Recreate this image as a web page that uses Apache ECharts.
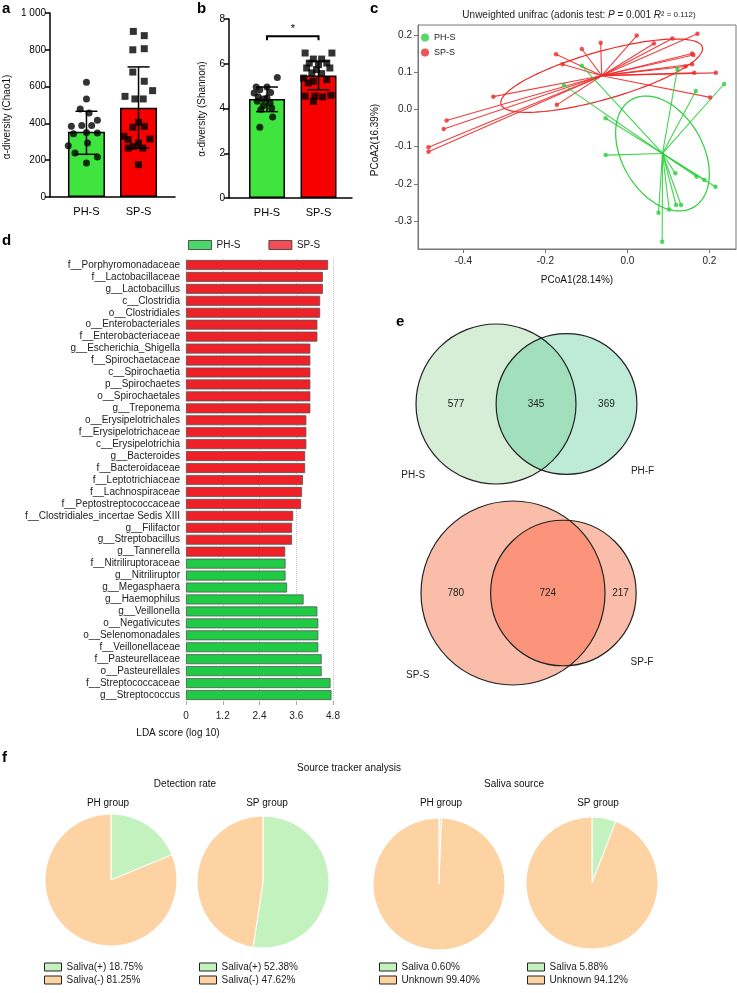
<!DOCTYPE html>
<html>
<head>
<meta charset="utf-8">
<title>Figure</title>
<script src="https://cdn.jsdelivr.net/npm/echarts@6.0.0/dist/echarts.min.js"></script>
<style>
html,body{margin:0;padding:0;background:#fff;}
#chart{width:737px;height:993px;}
</style>
</head>
<body>
<div id="chart"></div>
<script>
// ===================== DATA =====================
const groups = ['PH-S', 'SP-S'];

// (a) alpha diversity (Chao1)
const chaoMean = [355, 485];
const chaoLow = [232, 265];
const chaoHigh = [466, 707];
const chaoPH = [623, 533, 478, 457, 417, 384, 388, 388, 344, 351, 348, 279, 293, 239, 217, 185];
const chaoPHjit = [0, 0, -0.12, 0.05, 0.21, -0.29, -0.09, 0.10, -0.25, 0, 0.21, -0.35, 0.02, -0.22, 0.21, 0];
const chaoSP = [900, 877, 800, 806, 679, 629, 578, 547, 533, 533, 406, 384, 379, 330, 312, 315, 293, 275, 266, 266, 176];
const chaoSPjit = [-0.10, 0.11, -0.11, 0.11, -0.11, 0.11, 0.27, -0.26, -0.07, 0.09, 0, 0.11, -0.11, -0.28, -0.20, 0.22, 0, -0.10, 0.08, -0.20, 0];

// (b) alpha diversity (Shannon)
const shanMean = [4.42, 5.47];
const shanLow = [3.86, 4.84];
const shanHigh = [4.96, 6.12];
const shanPH = [5.39, 4.96, 4.96, 4.84, 4.69, 4.72, 4.52, 4.47, 4.32, 4.25, 4.13, 4.02, 3.95, 3.62, 3.16, 4.43];
const shanPHjit = [0.20, -0.21, 0, -0.14, -0.25, 0.07, -0.17, 0, -0.19, 0.06, -0.07, 0.09, -0.12, 0.11, -0.14, -0.07];
const shanSP = [6.48, 6.48, 6.21, 6.21, 6.03, 5.96, 6.03, 5.81, 5.74, 5.81, 5.59, 5.56, 5.36, 5.29, 5.22, 4.55, 4.55, 4.52, 4.59, 4.32, 5.14];
const shanSPjit = [-0.26, 0.26, -0.10, 0.06, -0.18, 0, 0.16, -0.23, -0.04, 0.22, -0.13, 0.06, -0.29, 0.16, -0.10, -0.26, -0.07, 0.08, 0.24, -0.10, -0.20];
const sigPair = [0, 1];
const sigLevel = 7.23;
const sigMark = '*';

// (c) PCoA, unweighted unifrac
const pcoaPH = [[-0.111, 0.117], [-0.155, 0.065], [0.122, 0.108], [0.167, 0.049], [0.236, 0.068], [-0.053, -0.024], [-0.053, -0.123], [0.117, -0.172], [0.169, -0.181], [0.188, -0.190], [0.215, -0.208], [0.119, -0.257], [0.131, -0.257], [0.102, -0.269], [0.076, -0.278], [0.085, -0.356]];
const pcoaSP = [[0.023, 0.198], [-0.065, 0.179], [-0.111, 0.162], [-0.174, 0.148], [-0.158, 0.121], [0.065, 0.177], [0.110, 0.190], [0.171, 0.203], [0.158, 0.150], [0.161, 0.146], [0.158, 0.121], [0.142, 0.115], [0.163, 0.098], [0.216, 0.098], [0.202, 0.032], [-0.327, 0.034], [-0.172, 0.012], [-0.441, -0.030], [-0.448, -0.053], [-0.485, -0.102], [-0.485, -0.114]];
const centroidPH = [0.0857, -0.1186];
const centroidSP = [-0.0626, 0.0904];
const ellipsePH = [[0.0753, -0.1448], [-0.0859, -0.0537]];   // semi-axis vectors
const ellipseSP = [[0.2456, 0.0767], [0.0160, -0.0618]];
const pcoaXTicks = [-0.4, -0.2, 0, 0.2];
const pcoaYTicks = [-0.3, -0.2, -0.1, 0, 0.1, 0.2];

// (d) LEfSe LDA scores
const ldaTaxaSP = ['f__Porphyromonadaceae', 'f__Lactobacillaceae', 'g__Lactobacillus', 'c__Clostridia', 'o__Clostridiales', 'o__Enterobacteriales', 'f__Enterobacteriaceae', 'g__Escherichia_Shigella', 'f__Spirochaetaceae', 'c__Spirochaetia', 'p__Spirochaetes', 'o__Spirochaetales', 'g__Treponema', 'o__Erysipelotrichales', 'f__Erysipelotrichaceae', 'c__Erysipelotrichia', 'g__Bacteroides', 'f__Bacteroidaceae', 'f__Leptotrichiaceae', 'f__Lachnospiraceae', 'f__Peptostreptococcaceae', 'f__Clostridiales_incertae Sedis XIII', 'g__Filifactor', 'g__Streptobacillus', 'g__Tannerella'];
const ldaSP = [4.64, 4.47, 4.47, 4.38, 4.38, 4.29, 4.29, 4.06, 4.06, 4.06, 4.06, 4.06, 4.06, 3.93, 3.93, 3.93, 3.89, 3.89, 3.82, 3.79, 3.76, 3.50, 3.46, 3.46, 3.24];
const ldaTaxaPH = ['f__Nitriliruptoraceae', 'g__Nitriliruptor', 'g__Megasphaera', 'g__Haemophilus', 'g__Veillonella', 'o__Negativicutes', 'o__Selenomonadales', 'f__Veillonellaceae', 'f__Pasteurellaceae', 'o__Pasteurellales', 'f__Streptococcaceae', 'g__Streptococcus'];
const ldaPH = [3.25, 3.25, 3.30, 3.84, 4.29, 4.32, 4.32, 4.32, 4.43, 4.43, 4.72, 4.75];

// (e) Venn counts [only left, shared, only right]
const vennPHcounts = [577, 345, 369];
const vennPHnames = ['PH-S', 'PH-F'];
const vennSPcounts = [780, 724, 217];
const vennSPnames = ['SP-S', 'SP-F'];

// (f) Source tracker
const detLabels = ['Saliva(+)', 'Saliva(-)'];
const detPH = [18.75, 81.25];
const detSP = [52.38, 47.62];
const srcLabels = ['Saliva', 'Unknown'];
const srcPH = [0.60, 99.40];
const srcSP = [5.88, 94.12];

// ===================== STYLE / LAYOUT =====================
const F = "'Liberation Sans', Arial, Helvetica, sans-serif";
const barGreen = '#3fe43f', barRed = '#f80000';
const cGreen = '#2ccf3c', cRed = '#ee2a2a';
const dGreen = '#1fcb45', dRed = '#ee2129';
const pieGreen = '#c3f2bf', pieOrange = '#fdd3a3';
const vennLayout = [
  {counts: vennPHcounts, names: vennPHnames, anchor: [496, 404], scale: 21.8, fills: ['#d5eed5', '#bdebd8', '#a2e0bd']},
  {counts: vennSPcounts, names: vennSPnames, anchor: [513, 593], scale: 17.68, fills: ['#f9bdaa', '#f9bdaa', '#fb947b']}
];

// ===================== HELPERS =====================
function errBar(capHalf) {
  return function (params, api) {
    const x = api.value(0), lo = api.value(1), hi = api.value(2);
    const a = api.coord([x, lo]), b = api.coord([x, hi]);
    const st = {stroke: '#000', lineWidth: 1.5};
    return {type: 'group', children: [
      {type: 'line', shape: {x1: a[0], y1: a[1], x2: b[0], y2: b[1]}, style: st},
      {type: 'line', shape: {x1: b[0] - capHalf, y1: b[1], x2: b[0] + capHalf, y2: b[1]}, style: st},
      {type: 'line', shape: {x1: a[0] - capHalf, y1: a[1], x2: a[0] + capHalf, y2: a[1]}, style: st}
    ]};
  };
}
function ellipseRender(axes, color) {
  return function (params, api) {
    const cx = api.value(0), cy = api.value(1);
    const pts = [];
    for (let i = 0; i <= 120; i++) {
      const t = i / 120 * Math.PI * 2;
      pts.push(api.coord([cx + axes[0][0] * Math.cos(t) + axes[1][0] * Math.sin(t),
                          cy + axes[0][1] * Math.cos(t) + axes[1][1] * Math.sin(t)]));
    }
    return {type: 'polyline', shape: {points: pts}, style: {stroke: color, fill: null, lineWidth: 1.2}};
  };
}
function lensArea(r1, r2, d) {
  if (d >= r1 + r2) return 0;
  if (d <= Math.abs(r1 - r2)) return Math.PI * Math.min(r1, r2) ** 2;
  const a1 = Math.acos((d * d + r1 * r1 - r2 * r2) / (2 * d * r1));
  const a2 = Math.acos((d * d + r2 * r2 - r1 * r1) / (2 * d * r2));
  return r1 * r1 * a1 + r2 * r2 * a2 - 0.5 * Math.sqrt((-d + r1 + r2) * (d + r1 - r2) * (d - r1 + r2) * (d + r1 + r2));
}
function solveDist(r1, r2, target) {
  let lo = Math.abs(r1 - r2), hi = r1 + r2;
  for (let i = 0; i < 60; i++) {
    const m = (lo + hi) / 2;
    if (lensArea(r1, r2, m) > target) lo = m; else hi = m;
  }
  return (lo + hi) / 2;
}
function vennRender(params, api) {
  const v = vennLayout[api.value(0)];
  const nL = v.counts[0] + v.counts[1], nR = v.counts[1] + v.counts[2];
  const rLu = Math.sqrt(v.scale * nL / Math.PI), rRu = Math.sqrt(v.scale * nR / Math.PI);
  const du = solveDist(rLu, rRu, v.scale * v.counts[1]);
  const pL = api.coord(v.anchor), pR = api.coord([v.anchor[0] + du, v.anchor[1]]);
  const rL = api.size([rLu, 0])[0], rR = api.size([rRu, 0])[0];
  const d = pR[0] - pL[0], cy = pL[1];
  const a = (d * d + rL * rL - rR * rR) / (2 * d), h = Math.sqrt(rL * rL - a * a);
  const lens = [];
  const t1 = Math.atan2(-h, a - d), t2 = Math.atan2(h, a - d) - 2 * Math.PI;
  for (let i = 0; i <= 60; i++) { const t = t1 + (t2 - t1) * i / 60; lens.push([pR[0] + rR * Math.cos(t), cy + rR * Math.sin(t)]); }
  const f2 = Math.atan2(h, a), f1 = Math.atan2(-h, a);
  for (let i = 0; i <= 60; i++) { const t = f2 + (f1 - f2) * i / 60; lens.push([pL[0] + rL * Math.cos(t), cy + rL * Math.sin(t)]); }
  const txt = (x, y, s) => ({type: 'text', x: x, y: y, style: {text: String(s), fill: '#222', fontSize: 10, fontFamily: F, align: 'center', verticalAlign: 'middle'}});
  const ln = '#222';
  return {type: 'group', children: [
    {type: 'circle', shape: {cx: pL[0], cy: cy, r: rL}, style: {fill: v.fills[0], stroke: null}},
    {type: 'circle', shape: {cx: pR[0], cy: cy, r: rR}, style: {fill: v.fills[1], stroke: null}},
    {type: 'polygon', shape: {points: lens}, style: {fill: v.fills[2], stroke: null}},
    {type: 'circle', shape: {cx: pL[0], cy: cy, r: rL}, style: {fill: null, stroke: ln, lineWidth: 1.2}},
    {type: 'circle', shape: {cx: pR[0], cy: cy, r: rR}, style: {fill: null, stroke: ln, lineWidth: 1.2}},
    txt(((pL[0] - rL) + (pR[0] - rR)) / 2, cy, v.counts[0]),
    txt(((pR[0] - rR) + (pL[0] + rL)) / 2, cy, v.counts[1]),
    txt(((pL[0] + rL) + (pR[0] + rR)) / 2, cy, v.counts[2]),
    txt(pL[0] - 1.035 * rL, cy + 0.895 * rL, v.names[0]),
    txt(pR[0] + 1.08 * rR, cy + 0.95 * rR, v.names[1])
  ]};
}
function txt(x, y, text, size, extra) {
  return Object.assign({type: 'text', x: x, y: y, silent: true,
    style: {text: text, fill: '#111', fontSize: size || 10, fontFamily: F, align: 'center', verticalAlign: 'middle'}}, extra || {});
}
function bold(x, y, t) {
  return {type: 'text', x: x, y: y, silent: true, style: {text: t, fill: '#000', fontSize: 15, fontWeight: 'bold', fontFamily: F, align: 'left', verticalAlign: 'middle'}};
}
const blackAxis = {show: true, onZero: false, lineStyle: {color: '#000', width: 1.5}};
const blackTick = {show: true, length: 5, lineStyle: {color: '#000', width: 1.5}};
const noSplit = {show: false};

// ===================== OPTION =====================
const ldaTaxa = ldaTaxaSP.concat(ldaTaxaPH);
const ldaSPdata = ldaSP.concat(ldaPH.map(() => null));
const ldaPHdata = ldaSP.map(() => null).concat(ldaPH);
const pieName = (l, v) => l + ' ' + v.toFixed(2) + '%';

function pie(center, labels, vals) {
  return {type: 'pie', center: center, radius: 66, startAngle: 90, clockwise: true, silent: true,
    label: {show: false}, labelLine: {show: false}, emphasis: {disabled: true},
    itemStyle: {borderColor: '#fff', borderWidth: 1},
    data: vals.map((v, i) => ({name: pieName(labels[i], v), value: v, itemStyle: {color: i === 0 ? pieGreen : pieOrange}}))};
}
function pieLegend(left, labels, vals) {
  return {orient: 'vertical', left: left, top: 962, padding: 0, itemWidth: 17, itemHeight: 8, itemGap: 3,
    icon: 'rect', selectedMode: false, itemStyle: {borderColor: '#222', borderWidth: 1},
    textStyle: {fontSize: 10, color: '#222', fontFamily: F},
    data: vals.map((v, i) => pieName(labels[i], v))};
}

const option = {
  animation: false,
  backgroundColor: '#fff',
  textStyle: {fontFamily: F},
  grid: [
    {left: 50, top: 13, width: 125, height: 184, outerBoundsMode: 'none'},
    {left: 229, top: 19, width: 123, height: 179, outerBoundsMode: 'none'},
    {left: 418, top: 25, width: 318, height: 224, show: true, borderColor: '#777', borderWidth: 1, backgroundColor: 'transparent', outerBoundsMode: 'none'},
    {left: 186, top: 259, width: 147, height: 442, outerBoundsMode: 'none'},
    {left: 0, top: 0, width: 737, height: 993, outerBoundsMode: 'none'}
  ],
  xAxis: [
    {gridIndex: 0, type: 'value', min: -0.7, max: 1.7, axisLine: blackAxis, axisTick: {show: false}, splitLine: noSplit,
      axisLabel: {customValues: [0, 1], formatter: v => groups[Math.round(v)], fontSize: 11, color: '#000', margin: 9}},
    {gridIndex: 1, type: 'value', min: -0.738, max: 1.65, axisLine: blackAxis, axisTick: {show: false}, splitLine: noSplit,
      axisLabel: {customValues: [0, 1], formatter: v => groups[Math.round(v)], fontSize: 11, color: '#000', margin: 9}},
    {gridIndex: 2, type: 'value', min: -0.5106, max: 0.265, splitLine: noSplit,
      axisLine: {show: true, onZero: false, lineStyle: {color: '#777', width: 1}},
      axisTick: {show: true, customValues: pcoaXTicks, length: 4, lineStyle: {color: '#777'}},
      axisLabel: {customValues: pcoaXTicks, formatter: v => v.toFixed(1), fontSize: 10, color: '#222', margin: 7}},
    {gridIndex: 3, type: 'value', min: 0, max: 4.8, interval: 1.2,
      axisLine: {show: false, onZero: false}, axisTick: {show: true, length: 4, lineStyle: {color: '#aaa'}},
      splitLine: {show: true, lineStyle: {color: '#c4c4c4', type: 'dotted', width: 1}},
      axisLabel: {formatter: v => v === 0 ? '0' : v.toFixed(1), fontSize: 10, color: '#222', margin: 10}},
    {gridIndex: 4, type: 'value', min: 0, max: 737, show: false}
  ],
  yAxis: [
    {gridIndex: 0, type: 'value', min: 0, max: 1000, interval: 200, axisLine: blackAxis, axisTick: blackTick, splitLine: noSplit,
      axisLabel: {formatter: v => v === 1000 ? '1 000' : String(v), fontSize: 10, color: '#000', margin: 4}},
    {gridIndex: 1, type: 'value', min: 0, max: 8, interval: 2, axisLine: blackAxis, axisTick: blackTick, splitLine: noSplit,
      axisLabel: {fontSize: 10, color: '#000', margin: 4}},
    {gridIndex: 2, type: 'value', min: -0.3752, max: 0.2265, splitLine: noSplit,
      axisLine: {show: true, onZero: false, lineStyle: {color: '#777', width: 1}},
      axisTick: {show: true, customValues: pcoaYTicks, length: 4, lineStyle: {color: '#777'}},
      axisLabel: {customValues: pcoaYTicks, formatter: v => v.toFixed(1), fontSize: 10, color: '#222', margin: 6}},
    {gridIndex: 3, type: 'category', data: ldaTaxa, inverse: true, axisLine: {show: false}, axisTick: {show: false},
      axisLabel: {interval: 0, fontSize: 10, color: '#222', margin: 6}},
    {gridIndex: 4, type: 'value', min: 0, max: 993, inverse: true, show: false}
  ],
  legend: [
    {orient: 'vertical', left: 421, top: 33, padding: 0, itemWidth: 8, itemHeight: 8, itemGap: 6, selectedMode: false,
      textStyle: {fontSize: 9, color: '#222', fontFamily: F},
      data: [{name: 'PH-S', icon: 'circle', itemStyle: {color: cGreen, borderWidth: 0}},
             {name: 'SP-S', icon: 'circle', itemStyle: {color: cRed, borderWidth: 0}}]},
    {orient: 'horizontal', left: 188, top: 240, padding: 0, itemWidth: 23, itemHeight: 9, itemGap: 28, selectedMode: false,
      textStyle: {fontSize: 10, color: '#222', fontFamily: F},
      data: [{name: 'PH-S', icon: 'rect', itemStyle: {color: dGreen, borderColor: '#333', borderWidth: 1}},
             {name: 'SP-S', icon: 'rect', itemStyle: {color: dRed, borderColor: '#333', borderWidth: 1}}]},
    pieLegend(44, detLabels, detPH),
    pieLegend(199, detLabels, detSP),
    pieLegend(379, srcLabels, srcPH),
    pieLegend(527, srcLabels, srcSP)
  ],
  series: [
    // ---- (a)
    {type: 'bar', name: 'a-bars', xAxisIndex: 0, yAxisIndex: 0, barWidth: 37, silent: true,
      itemStyle: {borderColor: '#000', borderWidth: 1.5},
      data: chaoMean.map((v, i) => ({value: [i, v], itemStyle: {color: i === 0 ? barGreen : barRed}}))},
    {type: 'custom', name: 'a-err', xAxisIndex: 0, yAxisIndex: 0, silent: true, renderItem: errBar(11),
      data: chaoMean.map((v, i) => [i, chaoLow[i], chaoHigh[i]]), z: 3},
    {type: 'scatter', name: 'a-ph', xAxisIndex: 0, yAxisIndex: 0, symbol: 'circle', symbolSize: 7, silent: true, z: 4,
      itemStyle: {color: '#000'}, data: chaoPH.map((v, i) => [0 + chaoPHjit[i], v])},
    {type: 'scatter', name: 'a-sp', xAxisIndex: 0, yAxisIndex: 0, symbol: 'rect', symbolSize: 7, silent: true, z: 4,
      itemStyle: {color: '#000'}, data: chaoSP.map((v, i) => [1 + chaoSPjit[i], v])},
    // ---- (b)
    {type: 'bar', name: 'b-bars', xAxisIndex: 1, yAxisIndex: 1, barWidth: 36, silent: true,
      itemStyle: {borderColor: '#000', borderWidth: 1.5},
      data: shanMean.map((v, i) => ({value: [i, v], itemStyle: {color: i === 0 ? barGreen : barRed}}))},
    {type: 'custom', name: 'b-err', xAxisIndex: 1, yAxisIndex: 1, silent: true, renderItem: errBar(11),
      data: shanMean.map((v, i) => [i, shanLow[i], shanHigh[i]]), z: 3},
    {type: 'scatter', name: 'b-ph', xAxisIndex: 1, yAxisIndex: 1, symbol: 'circle', symbolSize: 7, silent: true, z: 4,
      itemStyle: {color: '#000'}, data: shanPH.map((v, i) => [0 + shanPHjit[i], v])},
    {type: 'scatter', name: 'b-sp', xAxisIndex: 1, yAxisIndex: 1, symbol: 'rect', symbolSize: 7, silent: true, z: 4,
      itemStyle: {color: '#000'}, data: shanSP.map((v, i) => [1 + shanSPjit[i], v])},
    {type: 'custom', name: 'b-sig', xAxisIndex: 1, yAxisIndex: 1, silent: true, z: 5,
      data: [[sigPair[0], sigPair[1], sigLevel]],
      renderItem: function (params, api) {
        const p0 = api.coord([api.value(0), api.value(2)]), p1 = api.coord([api.value(1), api.value(2)]);
        return {type: 'group', children: [
          {type: 'polyline', shape: {points: [[p0[0], p0[1] + 4], p0, p1, [p1[0], p1[1] + 4]]}, style: {stroke: '#000', lineWidth: 2, fill: null}},
          {type: 'text', x: (p0[0] + p1[0]) / 2, y: p0[1] - 7, style: {text: sigMark, fontSize: 11, fill: '#000', fontFamily: F, align: 'center', verticalAlign: 'middle'}}
        ]};
      }},
    // ---- (c)
    {type: 'lines', name: 'c-sp-lines', coordinateSystem: 'cartesian2d', xAxisIndex: 2, yAxisIndex: 2, silent: true,
      lineStyle: {color: cRed, width: 1.1, opacity: 0.9},
      data: pcoaSP.map(p => ({coords: [centroidSP, p]}))},
    {type: 'custom', name: 'c-sp-ell', xAxisIndex: 2, yAxisIndex: 2, silent: true, renderItem: ellipseRender(ellipseSP, cRed), data: [centroidSP]},
    {type: 'scatter', name: 'SP-S', xAxisIndex: 2, yAxisIndex: 2, symbolSize: 4.5, silent: true, itemStyle: {color: cRed}, data: pcoaSP},
    {type: 'lines', name: 'c-ph-lines', coordinateSystem: 'cartesian2d', xAxisIndex: 2, yAxisIndex: 2, silent: true,
      lineStyle: {color: cGreen, width: 1.1, opacity: 0.9},
      data: pcoaPH.map(p => ({coords: [centroidPH, p]}))},
    {type: 'custom', name: 'c-ph-ell', xAxisIndex: 2, yAxisIndex: 2, silent: true, renderItem: ellipseRender(ellipsePH, cGreen), data: [centroidPH]},
    {type: 'scatter', name: 'PH-S', xAxisIndex: 2, yAxisIndex: 2, symbolSize: 4.5, silent: true, itemStyle: {color: cGreen}, data: pcoaPH},
    // ---- (d)
    {type: 'bar', name: 'SP-S', xAxisIndex: 3, yAxisIndex: 3, barWidth: 10, barGap: '-100%', silent: true,
      itemStyle: {color: dRed, borderColor: '#555', borderWidth: 0.8}, data: ldaSPdata},
    {type: 'bar', name: 'PH-S', xAxisIndex: 3, yAxisIndex: 3, barWidth: 10, barGap: '-100%', silent: true,
      itemStyle: {color: dGreen, borderColor: '#555', borderWidth: 0.8}, data: ldaPHdata},
    // ---- (e)
    {type: 'custom', name: 'venn', xAxisIndex: 4, yAxisIndex: 4, silent: true, renderItem: vennRender, data: [[0], [1]]},
    // ---- (f)
    pie([111, 880], detLabels, detPH),
    pie([263, 882], detLabels, detSP),
    pie([439, 884], srcLabels, srcPH),
    pie([592, 883], srcLabels, srcSP)
  ],
  graphic: [
    bold(2, 9, 'a'), bold(197, 9, 'b'), bold(370, 9, 'c'), bold(2, 241, 'd'), bold(396, 322, 'e'), bold(2, 758, 'f'),
    txt(7, 117, 'α-diversity (Chao1)', 10, {rotation: Math.PI / 2}),
    txt(202, 109, 'α-diversity (Shannon)', 10, {rotation: Math.PI / 2}),
    {type: 'text', x: 579, y: 15, silent: true, style: {
      text: '{n|Unweighted unifrac (adonis test: }{i|P}{n| = 0.001 }{i|R}{n|²}{s| = 0.112)}',
      fill: '#222', fontFamily: F, fontSize: 10, align: 'center', verticalAlign: 'middle',
      rich: {n: {fontSize: 10, fontFamily: F, fill: '#222'}, i: {fontSize: 10, fontStyle: 'italic', fontFamily: F, fill: '#222'}, s: {fontSize: 8, fontFamily: F, fill: '#222'}}}},
    txt(577, 280, 'PCoA1(28.14%)', 10),
    txt(375, 140, 'PCoA2(16.39%)', 10, {rotation: Math.PI / 2}),
    txt(178, 733, 'LDA score (log 10)', 10),
    txt(349, 768, 'Source tracker analysis', 10),
    txt(185, 784, 'Detection rate', 10),
    txt(514, 784, 'Saliva source', 10),
    txt(108, 803, 'PH group', 10),
    txt(267, 803, 'SP group', 10),
    txt(441, 803, 'PH group', 10),
    txt(598, 803, 'SP group', 10)
  ]
};

const chart = echarts.init(document.getElementById('chart'), null, {renderer: 'canvas', width: 737, height: 993});
chart.setOption(option);
</script>
</body>
</html>
